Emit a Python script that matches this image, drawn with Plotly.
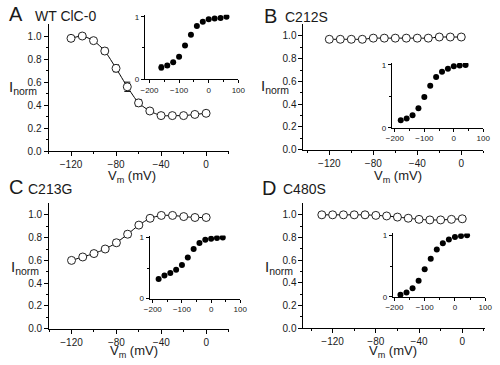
import plotly.graph_objects as go

# ---------------- data ----------------
vm_A = [-120, -110, -100, -90, -80, -70, -60, -50, -40, -30, -20, -10, 0]
inorm_A = [0.98, 1.00, 0.96, 0.87, 0.72, 0.56, 0.42, 0.35, 0.31, 0.31, 0.31, 0.32, 0.33]
err_A = [0.01, 0.01, 0.015, 0.025, 0.03, 0.04, 0.03, 0.02, 0.01, 0.01, 0.01, 0.01, 0.01]

vm_B = [-120, -110, -100, -90, -80, -70, -60, -50, -40, -30, -20, -10, 0]
inorm_B = [0.97, 0.97, 0.97, 0.97, 0.98, 0.98, 0.98, 0.98, 0.98, 0.98, 0.99, 0.99, 0.99]
err_B = [0.01] * 13

vm_C = [-120, -110, -100, -90, -80, -70, -60, -50, -40, -30, -20, -10, 0]
inorm_C = [0.60, 0.63, 0.66, 0.70, 0.755, 0.83, 0.91, 0.97, 0.995, 0.995, 0.985, 0.977, 0.977]
err_C = [0.02, 0.02, 0.02, 0.02, 0.025, 0.025, 0.02, 0.015, 0.015, 0.015, 0.01, 0.01, 0.01]

vm_D = [-130, -120, -110, -100, -90, -80, -70, -60, -50, -40, -30, -20, -10, 0]
inorm_D = [1.00, 1.00, 1.00, 1.00, 1.00, 0.995, 0.99, 0.98, 0.97, 0.96, 0.955, 0.955, 0.96, 0.965]
err_D = [0.01] * 14

vpre_A = [-160, -140, -120, -100, -80, -60, -40, -20, 0, 20, 40, 60]
ins_A = [0.19, 0.22, 0.27, 0.36, 0.54, 0.71, 0.85, 0.92, 0.96, 0.97, 0.98, 1.00]
inserr_A = [0.04, 0.03, 0.01, 0.01, 0.01, 0.01, 0.01, 0.01, 0.01, 0.01, 0.01, 0.01]

vpre_BCD = [-180, -160, -140, -120, -100, -80, -60, -40, -20, 0, 20, 40]
ins_B = [0.12, 0.15, 0.20, 0.31, 0.49, 0.67, 0.81, 0.89, 0.94, 0.98, 0.99, 1.00]
ins_C = [0.32, 0.38, 0.42, 0.47, 0.55, 0.67, 0.81, 0.91, 0.96, 0.98, 0.99, 1.00]
ins_D = [0.035, 0.07, 0.14, 0.26, 0.45, 0.62, 0.77, 0.87, 0.93, 0.97, 0.99, 1.00]

panel_letters = ["A", "B", "C", "D"]
panel_titles = ["WT ClC-0", "C212S", "C213G", "C480S"]
main_xticks = [-120, -80, -40, 0]
main_yticks = [0.0, 0.2, 0.4, 0.6, 0.8, 1.0]
inset_xticks = [-200, -100, 0, 100]

# ---------------- layout helpers ----------------
W, H = 500, 365
FONT = "Liberation Sans, Arial, sans-serif"
TXT = "#1a1a1a"


def px_x(a, b):
    return [a / W, b / W]


def px_y(top, bottom):
    return [1 - bottom / H, 1 - top / H]


fig = go.Figure()

# (x-domain px, y-domain px, x-range) for main panels and insets
main_cfg = [
    ((42.7, 228.0), (23.0, 152.7), [-140, 20]),
    ((305.0, 490.0), (23.0, 151.0), [-143.5, 20]),
    ((43.3, 228.0), (206.0, 334.0), [-140, 20]),
    ((305.0, 491.7), (206.0, 333.5), [-147, 21]),
]
inset_cfg = [
    ((141.7, 238.0), (13.1, 79.0), [-216, 100]),
    ((396.0, 490.0), (62.4, 128.7), [-210, 100]),
    ((146.7, 240.0), (238.8, 303.3), [-211, 100]),
    ((397.0, 492.0), (236.6, 301.5), [-205, 100]),
]

main_data = [(vm_A, inorm_A, err_A), (vm_B, inorm_B, err_B),
             (vm_C, inorm_C, err_C), (vm_D, inorm_D, err_D)]
inset_data = [(vpre_A, ins_A, inserr_A), (vpre_BCD, ins_B, None),
              (vpre_BCD, ins_C, None), (vpre_BCD, ins_D, None)]

axis_common = dict(showgrid=False, zeroline=False, showline=True, linecolor="black",
                   linewidth=1, ticks="outside", tickcolor="black", mirror=False,
                   tickfont=dict(family=FONT, size=10, color=TXT))

layout = dict(width=W, height=H, margin=dict(l=0, r=0, t=0, b=0),
              paper_bgcolor="white", plot_bgcolor="rgba(0,0,0,0)", showlegend=False)

for i in range(4):
    mi = 2 * i + 1
    ii = 2 * i + 2
    (mx0, mx1), (my0, my1), mxr = main_cfg[i]
    (ix0, ix1), (iy0, iy1), ixr = inset_cfg[i]
    xs, ys, es = main_data[i]
    fig.add_trace(go.Scatter(
        x=xs, y=ys, mode="lines+markers",
        line=dict(color="black", width=1, shape="spline", smoothing=0.6),
        marker=dict(symbol="circle", size=8, color="white", line=dict(color="#222", width=1)),
        error_y=dict(type="data", array=es, color="black", thickness=1, width=3),
        xaxis=f"x{mi}", yaxis=f"y{mi}"))
    xs2, ys2, es2 = inset_data[i]
    fig.add_trace(go.Scatter(
        x=xs2, y=ys2, mode="markers",
        marker=dict(symbol="circle", size=6, color="black"),
        error_y=(dict(type="data", array=es2, color="black", thickness=1, width=2)
                 if es2 else None),
        xaxis=f"x{ii}", yaxis=f"y{ii}"))

    layout[f"xaxis{mi}"] = dict(axis_common, domain=px_x(mx0, mx1), range=mxr,
                                anchor=f"y{mi}", tickvals=main_xticks, ticklen=4,
                                minor=dict(tickvals=[-140, -100, -60, -20, 20], ticklen=2,
                                           ticks="outside", tickcolor="black"))
    layout[f"yaxis{mi}"] = dict(axis_common, domain=px_y(my0, my1), range=[0, 1.1],
                                anchor=f"x{mi}", tickvals=main_yticks, tickformat=".1f",
                                ticklen=4,
                                minor=dict(tickvals=[0.1, 0.3, 0.5, 0.7, 0.9], ticklen=2,
                                           ticks="outside", tickcolor="black"))
    layout[f"xaxis{ii}"] = dict(axis_common, domain=px_x(ix0, ix1), range=ixr,
                                anchor=f"y{ii}", tickvals=inset_xticks, ticklen=3,
                                tickfont=dict(family=FONT, size=8, color=TXT),
                                minor=dict(tickvals=[-150, -50, 50], ticklen=2,
                                           ticks="outside", tickcolor="black"))
    layout[f"yaxis{ii}"] = dict(axis_common, domain=px_y(iy0, iy1), range=[0, 1.03],
                                anchor=f"x{ii}", tickvals=[0, 1], ticktext=["0", "1"],
                                ticklen=3, tickfont=dict(family=FONT, size=8, color=TXT),
                                minor=dict(tickvals=[0.5], ticklen=2,
                                           ticks="outside", tickcolor="black"))

annotations = []


def ann(text, x, y, size, xanchor="center", yanchor="middle"):
    annotations.append(dict(text=text, x=x / W, y=1 - y / H, xref="paper", yref="paper",
                            showarrow=False, xanchor=xanchor, yanchor=yanchor,
                            font=dict(family=FONT, size=size, color=TXT)))


letter_pos = [(9, 12), (271, 14), (9, 189), (270, 190)]
title_pos = [(27, 14), (284, 15), (20, 191), (282, 191)]
ylab_pos = [(0, 87), (259, 86), (2, 271), (263, 271)]
xlab_pos = [(129, 178), (402, 178), (131, 357.5), (397, 357.5)]

for i in range(4):
    ann(panel_letters[i], letter_pos[i][0], letter_pos[i][1], 20)
    ann(panel_titles[i], title_pos[i][0], title_pos[i][1], 14, xanchor="left")
    ann("I<sub>norm</sub>", ylab_pos[i][0], ylab_pos[i][1], 15, xanchor="left")
    ann("V<sub>m</sub> (mV)", xlab_pos[i][0], xlab_pos[i][1], 13)

layout["annotations"] = annotations
fig.update_layout(**layout)
fig.write_html("out.html", config={"displayModeBar": False, "staticPlot": True},
               post_script="document.body.style.margin='0';document.body.style.overflow='hidden';")
